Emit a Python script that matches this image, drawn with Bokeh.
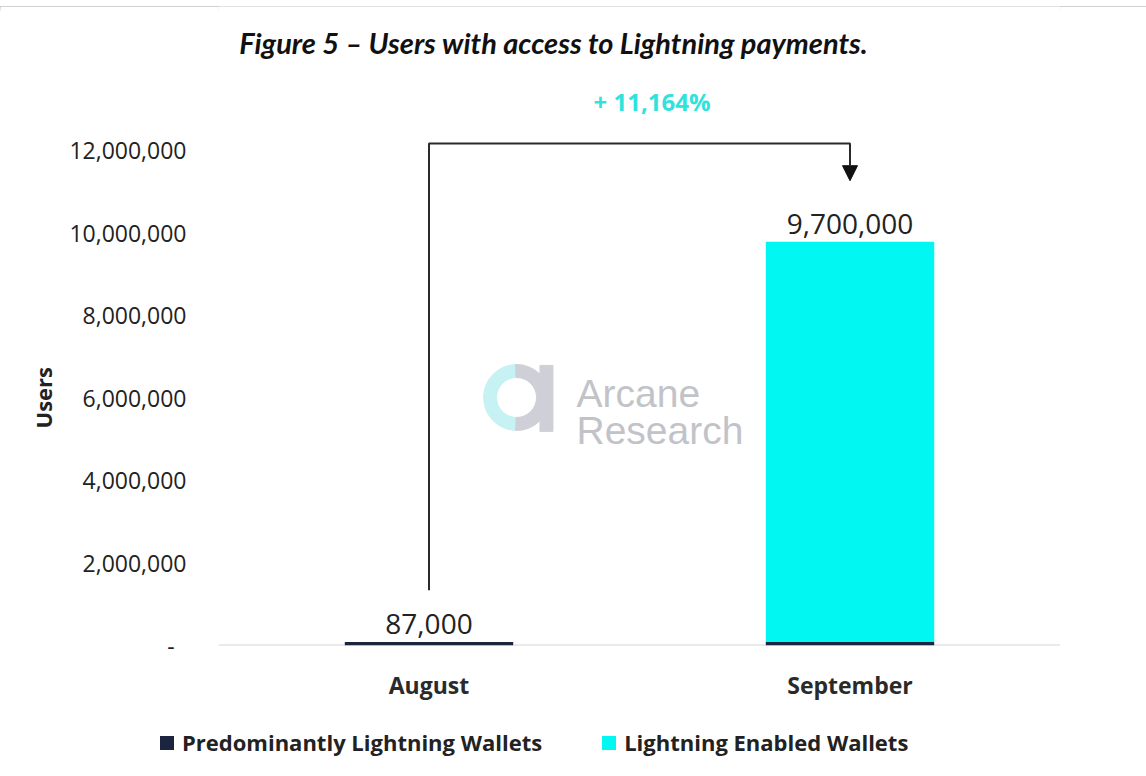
from bokeh.plotting import figure
from bokeh.layouts import column
from bokeh.models import (ColumnDataSource, FactorRange, FixedTicker, NumeralTickFormatter,
                          Span, Arrow, NormalHead, Range1d, Title, Div)
from bokeh.core.properties import value
from bokeh.embed import file_html
from bokeh.resources import INLINE

# ---- data ----
months = ["August", "September"]
predominantly = [87000, 87000]
enabled = [0, 9700000]
bar_labels = ["87,000", "9,700,000"]
growth_label = "+ 11,164%"
series_names = ["Predominantly Lightning Wallets", "Lightning Enabled Wallets"]
y_ticks = [0, 2000000, 4000000, 6000000, 8000000, 10000000, 12000000]

NAVY = "#1b2540"
CYAN = "#00f7f2"
COLORS = [NAVY, CYAN]
TXT = "#222222"
FONT = "Open Sans"

totals = [a + b for a, b in zip(predominantly, enabled)]
source = ColumnDataSource(dict(month=months, pred=predominantly, enabled=enabled,
                               total=totals, label=bar_labels))

# thin page-edge shadow at the very top
top_div = Div(text='<div style="height:6px;width:1146px;background:linear-gradient(#bdbdbd,#ffffff);"></div>',
              width=1146, height=6, margin=0)

p = figure(width=1146, height=699, x_range=FactorRange(factors=months, range_padding=0),
           y_range=Range1d(0, 15_490_000), output_backend="svg", toolbar_location=None,
           min_border_left=218, min_border_right=86, min_border_top=0, min_border_bottom=60)
p.outline_line_color = None
p.grid.grid_line_color = None
p.background_fill_color = "white"
p.border_fill_color = "white"

bars = p.vbar_stack(["pred", "enabled"], x="month", width=0.4, fill_color=COLORS,
                    line_color=None, source=source)

base = Span(location=0, dimension="width", line_color="#d6d6d6", line_width=2, level="underlay")
p.add_layout(base)

# data labels
p.text(x="month", y="total", text="label", source=source, text_align="center",
       text_baseline="bottom", y_offset=-8, text_font=value(FONT), text_font_size="28px",
       text_color=TXT)

# arrow connector
top_y = 12_170_000
p.line(x=[months[0], months[0], months[1], months[1]],
       y=[totals[0] + 1_250_000, top_y, top_y, top_y - 300_000], line_color="#2b2b2b", line_width=2)
p.add_layout(Arrow(end=NormalHead(size=15, fill_color="#111111", line_color="#111111"),
                   x_start=1.5, y_start=top_y - 200_000, x_end=1.5, y_end=totals[1] + 1_480_000,
                   line_color="#2b2b2b", line_width=2))
p.text(x=[1.03], y=[13_190_000], text=[growth_label], text_align="center", text_baseline="middle",
       text_font=value(FONT), text_font_size="24px", text_font_style="bold", text_color="#2fe3dc")

# title
p.text(x=[0.796], y=[14_620_000], text=["Figure 5 \u2013 Users with access to Lightning payments."],
       text_align="center", text_baseline="middle", text_font=value("Lato"), text_font_size="29px",
       text_font_style="bold italic", text_color="#111111")

# watermark
p.annular_wedge(x=[0.708], y=[6_012_000], inner_radius=20, outer_radius=33,
                inner_radius_units="screen", outer_radius_units="screen",
                start_angle=1.6, end_angle=4.65, color="#c6f2f3")
p.annular_wedge(x=[0.708], y=[6_012_000], inner_radius=20, outer_radius=33,
                inner_radius_units="screen", outer_radius_units="screen",
                start_angle=-1.6, end_angle=1.6, color="#cfd0d7")
p.rect(x=[0.779], y=[5_990_000], width=13, height=66, width_units="screen", height_units="screen",
       color="#cfd0d7")
p.text(x=[0.8504, 0.8504], y=[6_109_000, 5_212_000], text=["Arcane", "Research"],
       text_align="left", text_baseline="alphabetic", text_font=value("Liberation Sans"),
       text_font_size="39px", text_color="#c2c3c9")

# y axis
ya = p.yaxis[0]
ya.ticker = FixedTicker(ticks=y_ticks)
ya.formatter = NumeralTickFormatter(format="0,0")
ya.major_label_overrides = {0: "-\u00a0\u00a0"}
ya.axis_line_color = None
ya.major_tick_line_color = None
ya.minor_tick_line_color = None
ya.major_tick_out = 0
ya.major_tick_in = 0
ya.major_label_standoff = 32
ya.major_label_text_font = FONT
ya.major_label_text_font_size = "23px"
ya.major_label_text_color = TXT

ytitle = Title(text="Users", align="left", offset=217, text_font=FONT, text_font_size="22px",
               text_font_style="bold", text_color=TXT, standoff=18)
p.add_layout(ytitle, "left")

xa = p.xaxis[0]
xa.axis_line_color = None
xa.major_tick_line_color = None
xa.major_tick_out = 0
xa.major_tick_in = 0
xa.major_label_standoff = 23
xa.major_label_text_font = FONT
xa.major_label_text_font_size = "23px"
xa.major_label_text_font_style = "bold"
xa.major_label_text_color = "#2a2a2a"

# legend strip below the chart
items_html = "".join(
    f'<div style="display:flex;align-items:center;margin-right:60px;">'
    f'<span style="display:inline-block;width:14px;height:14px;background:{c};margin-right:8px;"></span>'
    f'<span>{name}</span></div>'
    for name, c in zip(series_names, COLORS))
legend_html = (f'<div style="display:flex;align-items:center;height:71px;padding-left:160px;'
               f'box-sizing:border-box;padding-top:5px;font-family:\'{FONT}\';font-size:22px;'
               f'font-weight:700;color:{TXT};white-space:nowrap;">{items_html}</div>')
legend_div = Div(text=legend_html, width=1146, height=71, margin=0)

open("out.html", "w").write(file_html(column(top_div, p, legend_div, spacing=0), INLINE))
